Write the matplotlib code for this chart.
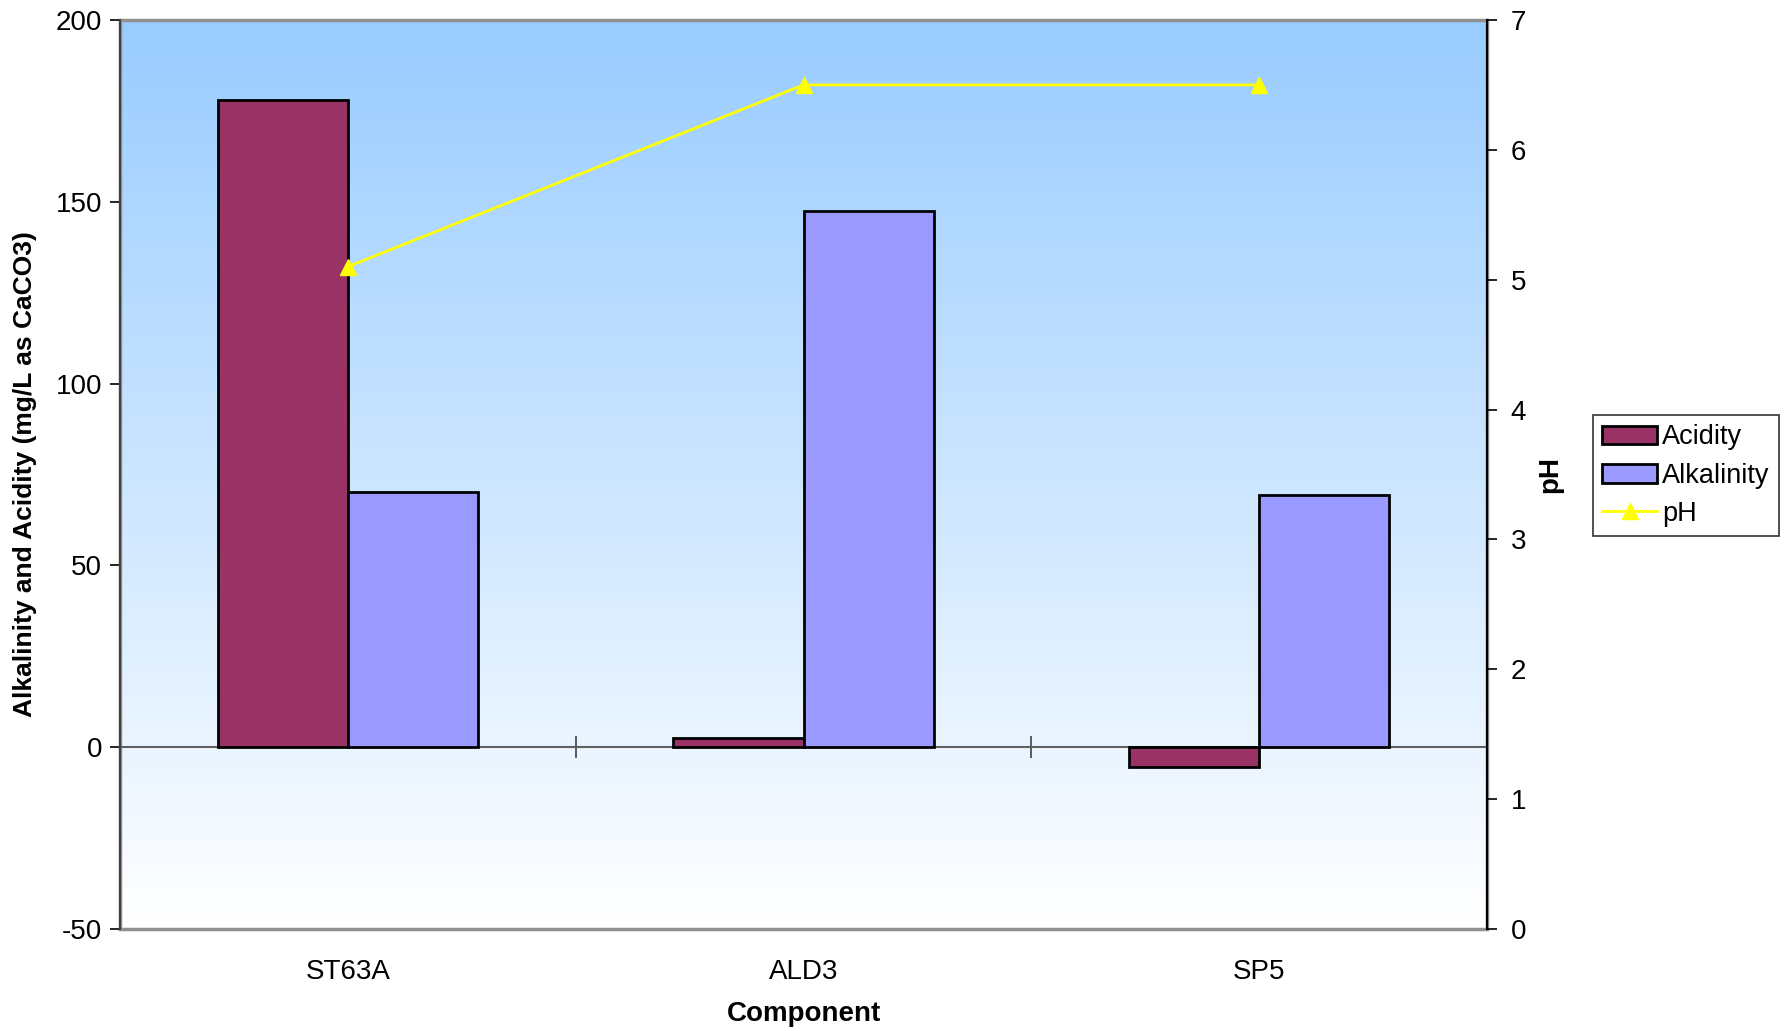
import numpy as np
import matplotlib.pyplot as plt
from matplotlib.patches import Rectangle

plt.rcParams['font.family'] = ['Liberation Sans', 'DejaVu Sans']
plt.rcParams['axes.unicode_minus'] = False

# data
components = ['ST63A', 'ALD3', 'SP5']
acidity = [178, 2.5, -5.4]
alkalinity = [70.3, 147.6, 69.4]
ph = [5.1, 6.5, 6.5]

fig = plt.figure(figsize=(17.84, 10.31), dpi=100)
fig.subplots_adjust(left=120/1784, right=1487/1784, top=1-20/1031, bottom=1-929/1031)
ax = fig.add_subplot(111)

# blue-to-white background
grad = np.linspace(0, 1, 256).reshape(-1, 1)
top = np.array([153, 204, 255]) / 255
bot = np.array([255, 255, 255]) / 255
img = top[None, None, :] * (1 - grad[:, :, None]) + bot[None, None, :] * grad[:, :, None]
ax.imshow(img, extent=[0, 1, 0, 1], transform=ax.transAxes, aspect='auto', zorder=0)

x = np.arange(len(components))
w = 1 / 3.5
ax.bar(x - w/2, acidity, w, color='#993366', edgecolor='black', linewidth=2, zorder=3, label='Acidity')
ax.bar(x + w/2, alkalinity, w, color='#9999FF', edgecolor='black', linewidth=2, zorder=3, label='Alkalinity')

ax.set_xlim(-0.5, 2.5)
ax.set_ylim(-50, 200)
ax.set_yticks([-50, 0, 50, 100, 150, 200])
ax.tick_params(axis='y', direction='out', length=7, width=1.2, labelsize=20, pad=6)

# category axis crosses at zero
ax.spines['bottom'].set_position(('data', 0))
ax.spines['bottom'].set_color('#606060')
ax.spines['bottom'].set_linewidth(1.5)
ax.spines['bottom'].set_zorder(2)
ax.set_xticks([0.5, 1.5])
ax.set_xticklabels([])
ax.tick_params(axis='x', direction='inout', length=16, width=1.2, color='#404040')
for xi, name in zip(x, components):
    ax.text(xi, -0.047, name, transform=ax.get_xaxis_transform(), ha='center', va='center', fontsize=20)
ax.text(1, -0.094, 'Component', transform=ax.get_xaxis_transform(), ha='center', va='center',
        fontsize=20, fontweight='bold')

ax.spines['top'].set_visible(False)
ax.spines['left'].set_color('#404040')
ax.spines['left'].set_linewidth(1.5)
ax.add_patch(Rectangle((0, 0), 1, 1, transform=ax.transAxes, fill=False, edgecolor='#909090',
                       linewidth=2.5, zorder=1, clip_on=False))
ax.set_ylabel('Alkalinity and Acidity (mg/L as CaCO3)', fontsize=19, fontweight='bold', labelpad=13)

ax2 = ax.twinx()
ax2.plot(x, ph, color='#FFFF00', linewidth=2, marker='^', markersize=12, label='pH', zorder=4)
ax2.set_ylim(0, 7)
ax2.set_yticks(range(8))
ax2.tick_params(axis='y', direction='out', length=7, width=1.2, labelsize=20, pad=10)
ax2.spines['right'].set_color('black')
ax2.spines['right'].set_linewidth(1.5)
for s in ['top', 'bottom', 'left']:
    ax2.spines[s].set_visible(False)
ax2.set_ylabel('pH', fontsize=20, fontweight='bold', labelpad=8)

h1, l1 = ax.get_legend_handles_labels()
h2, l2 = ax2.get_legend_handles_labels()
leg = fig.legend(h1 + h2, l1 + l2, loc='upper left', bbox_to_anchor=(1593/1784, 1-415/1031),
                 fontsize=19.5, frameon=True, fancybox=False, edgecolor='black',
                 handlelength=2.0, handleheight=0.7, borderpad=0.35, labelspacing=0.45,
                 handletextpad=0.2, borderaxespad=0)
leg.get_frame().set_linewidth(1.2)

plt.savefig('out.png', dpi=100)
